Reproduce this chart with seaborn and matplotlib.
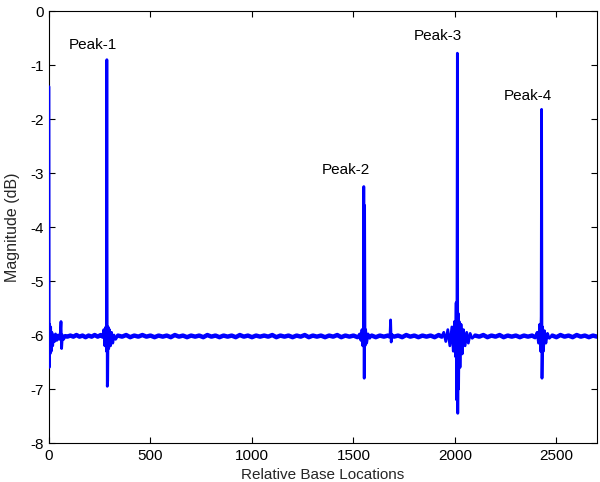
import numpy as np
import pandas as pd
import seaborn as sns
import matplotlib.pyplot as plt

# traced signal, segment by segment (x = relative base location, y = magnitude dB)
start_x = [0, 1, 3, 5, 8, 11, 14, 18, 22, 27, 32, 38, 44, 50, 56, 59, 62, 66, 72, 80]
start_y = [-1.4, -6.6, -5.8, -6.35, -5.85, -6.3, -5.95, -6.2, -6.0, -6.12,
           -5.98, -6.1, -6.0, -6.08, -5.95, -5.75, -6.25, -6.0, -6.08, -6.02]

quiet1_x = [80, 90, 105, 120, 135, 150, 165, 180, 195, 210, 225, 240, 255, 265]
quiet1_y = [-6.02, -6.03, -6.01, -6.03, -6.0, -6.03, -6.01, -6.04, -6.01, -6.03, -6.0, -6.03, -6.0, -6.03]

peak1_x = [265, 270, 275, 280, 283, 285, 287, 289, 291, 294, 298, 303, 308, 314, 320, 328, 340]
peak1_y = [-6.03, -5.9, -6.2, -5.85, -6.3, -0.9, -6.95, -6.85, -5.85, -6.25, -5.9,
           -6.2, -5.95, -6.15, -6.0, -6.08, -6.01]

quiet2_x = [340, 360, 380, 400, 420, 440, 460, 480, 500, 520,
            540, 560, 580, 600, 620, 640, 660, 680, 700, 720,
            740, 760, 780, 800, 820, 840, 860, 880, 900, 920,
            940, 960, 980, 1000, 1020, 1040, 1060, 1080, 1100, 1120,
            1140, 1160, 1180, 1200, 1220, 1240, 1260, 1280, 1300, 1320,
            1340, 1360, 1380, 1400, 1420, 1440, 1460, 1480, 1500, 1520]
quiet2_y = [-6.01, -6.03, -6.0, -6.04, -6.01, -6.03, -6.0, -6.03, -6.01, -6.04,
            -6.01, -6.03, -6.01, -6.04, -6.0, -6.03, -6.01, -6.04, -6.01, -6.03,
            -6.01, -6.04, -6.0, -6.03, -6.01, -6.04, -6.01, -6.03, -6.01, -6.04,
            -6.0, -6.03, -6.01, -6.04, -6.01, -6.03, -6.01, -6.03, -6.0, -6.04,
            -6.01, -6.03, -6.01, -6.04, -6.01, -6.03, -6.0, -6.04, -6.01, -6.03,
            -6.01, -6.04, -6.01, -6.03, -6.0, -6.04, -6.01, -6.03, -6.01, -6.04]

peak2_x = [1520, 1530, 1537, 1542, 1546, 1549, 1551, 1553, 1555, 1557, 1560, 1565, 1572, 1580, 1590]
peak2_y = [-6.04, -5.98, -6.1, -5.9, -6.2, -5.85, -3.25, -6.8, -3.6, -6.2, -5.9, -6.15, -5.98, -6.06, -6.01]

quiet3_x = [1590, 1610, 1630, 1650, 1670, 1680]
quiet3_y = [-6.01, -6.04, -6.01, -6.03, -6.01, -6.03]

bump_x = [1680, 1683, 1686, 1690, 1700]
bump_y = [-6.03, -5.72, -6.13, -5.99, -6.03]

quiet4_x = [1700, 1720, 1740, 1760, 1780, 1800, 1820, 1840, 1860, 1880, 1900, 1920, 1935]
quiet4_y = [-6.03, -6.01, -6.04, -6.0, -6.03, -6.01, -6.04, -6.01, -6.03, -6.01, -6.04, -6.0, -6.03]

peak3_x = [1935, 1945, 1955, 1965, 1975, 1985, 1992, 1998, 2003, 2006, 2008, 2010, 2012,
           2014, 2016, 2018, 2021, 2025, 2030, 2036, 2042, 2050, 2058, 2066, 2075, 2085, 2100]
peak3_y = [-6.03, -5.95, -6.12, -5.9, -6.2, -5.85, -6.3, -5.75, -6.4, -5.4, -7.2, -5.5, -0.78,
           -7.45, -5.6, -7.0, -5.75, -6.6, -5.8, -6.35, -5.9, -6.2, -5.95, -6.15, -5.97, -6.06, -6.01]

quiet5_x = [2100, 2120, 2140, 2160, 2180, 2200, 2220, 2240, 2260, 2280,
            2300, 2320, 2340, 2360, 2380, 2395]
quiet5_y = [-6.01, -6.03, -6.0, -6.04, -6.01, -6.03, -6.0, -6.04, -6.01, -6.03,
            -6.01, -6.04, -6.01, -6.03, -6.01, -6.04]

peak4_x = [2395, 2405, 2412, 2418, 2422, 2425, 2427, 2429, 2432, 2436, 2441, 2448, 2456, 2465, 2480]
peak4_y = [-6.04, -5.95, -6.15, -5.8, -6.3, -5.65, -1.82, -6.8, -5.85, -6.3, -5.92, -6.15, -5.97, -6.06, -6.01]

quiet6_x = [2480, 2500, 2520, 2540, 2560, 2580, 2600, 2620, 2640, 2660, 2680, 2700]
quiet6_y = [-6.01, -6.04, -6.0, -6.03, -6.01, -6.04, -6.0, -6.03, -6.01, -6.04, -6.01, -6.03]

peak_labels = ["Peak-1", "Peak-2", "Peak-3", "Peak-4"]
label_x = [217, 1462, 1916, 2360]
label_y = [-0.63, -2.94, -0.46, -1.57]

parts = [("start", start_x, start_y), ("q1", quiet1_x, quiet1_y), ("p1", peak1_x, peak1_y),
         ("q2", quiet2_x, quiet2_y), ("p2", peak2_x, peak2_y), ("q3", quiet3_x, quiet3_y),
         ("b", bump_x, bump_y), ("q4", quiet4_x, quiet4_y), ("p3", peak3_x, peak3_y),
         ("q5", quiet5_x, quiet5_y), ("p4", peak4_x, peak4_y), ("q6", quiet6_x, quiet6_y)]
df = pd.concat([pd.DataFrame({"loc": px, "mag": py, "seg": name}) for name, px, py in parts],
               ignore_index=True)
quiet = df[df["seg"].str.startswith("q")]
busy = df[~df["seg"].str.startswith("q")]

sns.set_style("ticks")
plt.rcParams['font.family'] = ['Liberation Sans', 'DejaVu Sans']

fig = plt.figure(figsize=(6, 4.82), dpi=100)
ax = fig.add_axes([0.0817, 0.0809, 0.9133, 0.8961])

# the noisy baseline reads as a thick band
sns.lineplot(data=quiet, x="loc", y="mag", units="seg", sort=False, estimator=None,
             color="#0000ff", linewidth=3.2, ax=ax, zorder=3)
# spikes and bursts
sns.lineplot(data=busy, x="loc", y="mag", units="seg", sort=False, estimator=None,
             color="#0000ff", linewidth=2.0, ax=ax, zorder=3)

for lab, lx, ly in zip(peak_labels, label_x, label_y):
    ax.text(lx, ly, lab, fontsize=11, ha="center", va="center", color="black")

ax.set_xlim(0, 2700)
ax.set_ylim(-8, 0)
ax.set_xticks([0, 500, 1000, 1500, 2000, 2500])
ax.set_yticks([-8, -7, -6, -5, -4, -3, -2, -1, 0])
ax.set_yticklabels(["-8", "-7", "-6", "-5", "-4", "-3", "-2", "-1", "0"])
ax.tick_params(direction="in", length=4, width=0.8, labelsize=11,
               top=True, right=True, colors="black", pad=4)
for s in ax.spines.values():
    s.set_visible(True)
    s.set_color("black")
    s.set_linewidth(0.8)
ax.set_xlabel("Relative Base Locations", fontsize=11, labelpad=4)
ax.set_ylabel("Magnitude (dB)", fontsize=11.5, labelpad=7.5)

fig.savefig("out.png", dpi=100)
